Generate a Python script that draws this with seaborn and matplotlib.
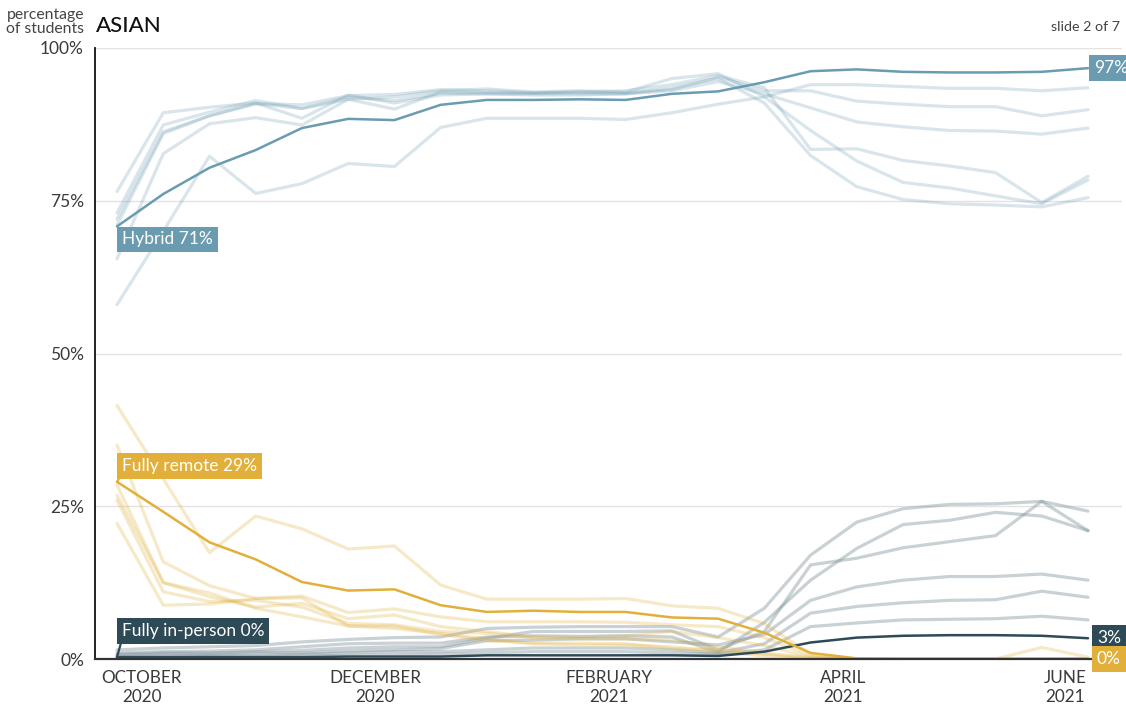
import matplotlib
matplotlib.use("Agg")
import matplotlib.pyplot as plt
import seaborn as sns
import numpy as np
import pandas as pd

# ---------------- data ----------------
idx = list(range(22))
tick_pos = [0.54, 5.58, 10.64, 15.7, 20.5]
tick_labels = ["OCTOBER\n2020", "DECEMBER\n2020", "FEBRUARY\n2021", "APRIL\n2021", "JUNE\n2021"]
y_ticks = [0, 25, 50, 75, 100]
y_labels = ["0%", "25%", "50%", "75%", "100%"]

hybrid_asian = [70.8, 76.1, 80.4, 83.3, 86.9, 88.4, 88.2, 90.7, 91.5, 91.5, 91.6, 91.5,
                92.5, 92.9, 94.4, 96.2, 96.5, 96.1, 96.0, 96.0, 96.1, 96.7]
remote_asian = [29.0, 24.1, 19.1, 16.3, 12.6, 11.2, 11.4, 8.8, 7.7, 7.9, 7.7, 7.7,
                6.8, 6.6, 4.3, 1.0, 0.1, 0, 0, 0, 0, 0]
inperson_asian = [0.3, 0.3, 0.3, 0.3, 0.3, 0.4, 0.4, 0.4, 0.6, 0.6, 0.6, 0.6,
                  0.6, 0.5, 1.2, 2.7, 3.5, 3.8, 3.9, 3.9, 3.8, 3.4]

hybrid_other_1 = [58.0, 70.0, 82.3, 76.2, 77.8, 81.1, 80.6, 87.0, 88.5, 88.5, 88.5, 88.3,
                  89.4, 90.8, 92.0, 94.0, 94.0, 93.7, 93.4, 93.4, 93.0, 93.5]
hybrid_other_2 = [65.5, 82.7, 87.6, 88.6, 87.4, 91.6, 90.0, 92.8, 92.7, 92.6, 92.8, 92.6,
                  93.2, 95.2, 93.0, 93.0, 91.3, 90.8, 90.4, 90.4, 88.9, 89.9]
hybrid_other_3 = [71.0, 86.0, 88.9, 90.9, 90.1, 92.0, 91.4, 92.6, 92.5, 92.3, 92.3, 92.5,
                  93.0, 94.5, 92.5, 90.2, 87.9, 87.1, 86.5, 86.4, 85.9, 86.9]
hybrid_other_4 = [72.0, 86.3, 88.9, 90.9, 90.7, 92.2, 92.4, 93.2, 93.0, 92.7, 92.8, 93.0,
                  94.0, 95.5, 93.5, 83.4, 83.5, 81.6, 80.7, 79.6, 74.7, 79.0]
hybrid_other_5 = [73.0, 87.4, 89.5, 91.4, 90.1, 91.6, 92.0, 93.0, 93.3, 92.8, 93.0, 92.8,
                  95.0, 95.8, 92.0, 86.5, 81.5, 78.0, 77.1, 75.8, 74.5, 78.4]
hybrid_other_6 = [76.5, 89.4, 90.3, 91.0, 88.5, 92.3, 91.0, 92.3, 92.5, 92.5, 92.5, 92.5,
                  93.5, 95.0, 91.0, 82.4, 77.3, 75.2, 74.5, 74.3, 74.0, 75.5]

remote_other_1 = [41.5, 29.5, 17.4, 23.4, 21.3, 18.0, 18.5, 12.1, 9.8, 9.8, 9.8, 9.9,
                  8.7, 8.3, 5.8, 0.8, 0, 0, 0, 0, 0, 0]
remote_other_2 = [35.0, 15.9, 12.0, 9.9, 10.3, 7.6, 8.2, 6.9, 6.1, 6.1, 6.1, 6.0,
                  5.6, 5.3, 3.5, 0.5, 0, 0, 0, 0, 0, 0]
remote_other_3 = [26.8, 12.5, 10.2, 8.5, 9.1, 6.6, 7.2, 5.3, 4.5, 3.6, 3.6, 3.8,
                  4.5, 3.5, 2.2, 0.3, 0, 0, 0, 0, 0, 0]
remote_other_4 = [26.0, 11.0, 9.4, 9.6, 8.5, 5.8, 5.6, 4.5, 4.2, 3.5, 3.3, 3.3,
                  3.1, 2.0, 1.0, 0.2, 0, 0, 0, 0, 1.9, 0.3]
remote_other_5 = [22.2, 8.8, 9.0, 9.9, 10.0, 5.4, 5.4, 4.0, 3.0, 2.6, 2.6, 2.5,
                  1.7, 1.5, 0.8, 0.1, 0, 0, 0, 0, 0, 0]
remote_other_6 = [28.5, 12.5, 10.8, 8.3, 6.9, 5.4, 5.0, 4.2, 3.3, 2.5, 2.3, 2.3,
                  2.0, 1.2, 0.5, 0, 0, 0, 0, 0, 0, 0]

inperson_other_1 = [1.5, 1.8, 2.0, 2.2, 2.8, 3.2, 3.5, 3.6, 5.0, 5.2, 5.3, 5.3,
                    5.3, 3.6, 8.3, 17.0, 22.4, 24.6, 25.3, 25.4, 25.8, 24.2]
inperson_other_2 = [1.0, 1.2, 1.3, 1.5, 2.0, 2.5, 2.6, 2.6, 3.6, 3.8, 3.7, 3.8,
                    3.6, 1.1, 6.0, 12.9, 18.1, 22.0, 22.7, 24.0, 23.4, 21.0]
inperson_other_3 = [0.8, 1.0, 1.0, 1.2, 1.4, 1.8, 2.0, 2.0, 3.4, 4.5, 4.5, 4.5,
                    4.6, 1.5, 4.5, 15.4, 16.5, 18.2, 19.2, 20.2, 25.8, 21.0]
inperson_other_4 = [0.6, 0.8, 0.8, 1.0, 1.0, 1.3, 1.5, 1.7, 3.0, 3.1, 3.3, 3.3,
                    2.8, 2.3, 4.0, 9.6, 11.8, 12.9, 13.5, 13.5, 13.9, 12.9]
inperson_other_5 = [0.4, 0.5, 0.6, 0.6, 0.8, 1.0, 1.2, 1.2, 1.5, 1.8, 1.8, 1.8,
                    1.5, 1.0, 2.5, 7.5, 8.6, 9.2, 9.6, 9.7, 11.1, 10.1]
inperson_other_6 = [0.3, 0.3, 0.4, 0.4, 0.5, 0.6, 0.7, 0.8, 1.0, 1.2, 1.2, 1.2,
                    1.0, 0.8, 1.5, 5.3, 5.9, 6.4, 6.5, 6.6, 7.0, 6.4]

hybrid_others = [hybrid_other_1, hybrid_other_2, hybrid_other_3,
                 hybrid_other_4, hybrid_other_5, hybrid_other_6]
remote_others = [remote_other_1, remote_other_2, remote_other_3,
                 remote_other_4, remote_other_5, remote_other_6]
inperson_others = [inperson_other_1, inperson_other_2, inperson_other_3,
                   inperson_other_4, inperson_other_5, inperson_other_6]

# ---------------- style ----------------
C_HYB = "#6a9bb0"
C_REM = "#e2b03a"
C_INP = "#2e4a57"
C_GREY = "#7f939c"
C_TXT = "#3a3a3a"

sns.set_theme(style="white")
plt.rcParams["font.family"] = ["Lato", "DejaVu Sans"]

fig = plt.figure(figsize=(11.26, 7.09), dpi=100)
W, H = 1126, 709
ax = fig.add_axes([95 / W, 1 - 659 / H, (1122 - 95) / W, (659 - 48) / H])

x0, x21 = 117, 1088
ppi = (x21 - x0) / 21
ax.set_xlim(-(x0 - 95) / ppi, 21 + (1122 - x21) / ppi)
ax.set_ylim(0, 100)

# faint lines (other groups)
for s in inperson_others:
    sns.lineplot(x=idx, y=s, ax=ax, color=C_GREY, lw=2.3, alpha=0.42)
for s in remote_others:
    sns.lineplot(x=idx, y=s, ax=ax, color=C_REM, lw=2.3, alpha=0.28)
for s in hybrid_others:
    sns.lineplot(x=idx, y=s, ax=ax, color=C_HYB, lw=2.3, alpha=0.25)

# highlighted lines
sns.lineplot(x=idx, y=inperson_asian, ax=ax, color=C_INP, lw=1.8)
sns.lineplot(x=idx, y=hybrid_asian, ax=ax, color=C_HYB, lw=1.8)
sns.lineplot(x=idx, y=remote_asian, ax=ax, color=C_REM, lw=1.8)

# grid / spines
for yv in [25, 50, 75, 100]:
    ax.axhline(yv, color="#e3e3e3", lw=1.0, zorder=0)
for side in ["top", "right"]:
    ax.spines[side].set_visible(False)
ax.spines["left"].set_color("#111111")
ax.spines["left"].set_linewidth(1.3)
ax.spines["bottom"].set_color("#333333")
ax.spines["bottom"].set_linewidth(1.6)
ax.grid(False)

ax.set_yticks(y_ticks)
ax.set_yticklabels(y_labels, fontsize=12.5, color=C_TXT, fontweight="normal")
ax.set_xticks(tick_pos)
ax.set_xticklabels(tick_labels, fontsize=12.3, color=C_TXT, fontweight="normal",
                   linespacing=1.25)
ax.tick_params(axis="y", length=0, pad=8)
ax.tick_params(axis="x", length=0, pad=8)
ax.set_xlabel("")
ax.set_ylabel("")

# labels on lines
def box(txt, xy, off, ha, va, fc, connector=False):
    kw = dict(xy=xy, xytext=off, textcoords="offset pixels", ha=ha, va=va,
              fontsize=12.5, color="white",
              bbox=dict(boxstyle="square,pad=0.28", fc=fc, ec="none"), zorder=10,
              annotation_clip=False)
    if connector:
        kw["arrowprops"] = dict(arrowstyle="-", color=fc, lw=1.6, relpos=(0, 0),
                                shrinkA=0, shrinkB=0)
    ax.annotate(txt, **kw)

box("Hybrid 71%", (0, hybrid_asian[0]), (5, -5), "left", "top", C_HYB)
box("Fully remote 29%", (0, remote_asian[0]), (5, 8), "left", "bottom", C_REM, connector=True)
box("Fully in-person 0%", (0, inperson_asian[0]), (5, 18), "left", "bottom", C_INP, connector=True)
box("97%", (21, hybrid_asian[-1]), (6, 0), "left", "center", C_HYB)
box("3%", (21, inperson_asian[-1]), (9, 0), "left", "center", C_INP)
box("0%", (21, remote_asian[-1]), (9, 0), "left", "center", C_REM)

# header texts
fig.text(84 / W, 1 - 8 / H, "percentage\nof students", ha="right", va="top",
         fontsize=11.3, color="#444444", fontweight="normal", linespacing=1.0)
fig.text(96 / W, 1 - 26 / H, "ASIAN", ha="left", va="center", fontsize=16,
         color="#111111", fontweight="medium")
fig.text(1120 / W, 1 - 27 / H, "slide 2 of 7", ha="right", va="center",
         fontsize=10.3, color="#444444", fontweight="normal")

fig.savefig("out.png", dpi=100)
